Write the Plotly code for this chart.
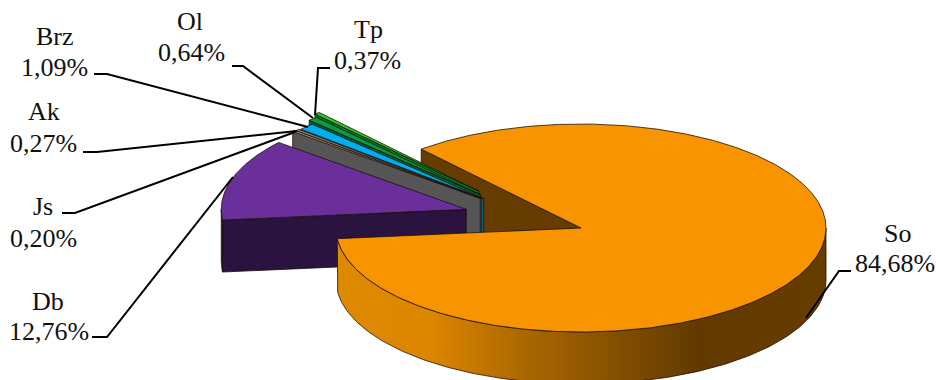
import numpy as np
import plotly.graph_objects as go

# Share of each category, clockwise from the large slice
names = ["So", "Db", "Js", "Ak", "Brz", "Ol", "Tp"]
shares = [84.68, 12.76, 0.20, 0.27, 1.09, 0.64, 0.37]

# Drawing style and pie geometry, in page pixels
W, H = 936, 380
CX, CY, RX, RY, DEPTH = 581, 228, 245, 104, 52
FIRST_ANGLE = -40.7
TOP_COLOR = {"So": "#f79400", "Db": "#6b2f9b", "Js": "#e3b596", "Ak": "#8a8a8a",
             "Brz": "#00aeef", "Ol": "#0a9a45", "Tp": "#22cc22"}
WALL_COLOR = {"So": "#663c00", "Db": "#2b1340", "Js": "#555555", "Ak": "#6b5a50",
              "Brz": "#0b6e96", "Ol": "#056030", "Tp": "#0a7a20"}
EDGE = "#1c1208"
# Horizontal and vertical pull-out of each slice, as a fraction of the radii
EXPLODE = {"So": (0, 0), "Db": (0.49, 0.61), "Js": (0.54, 0.44), "Ak": (0.54, 0.43),
           "Brz": (0.55, 0.41), "Ol": (0.60, 0.44), "Tp": (0.63, 0.47)}
# Text centres: name line and value line
LABEL_POS = {"So": (897, 233, 895, 263), "Db": (48, 301, 49, 331), "Js": (43, 206, 43, 238),
             "Ak": (44, 111, 43, 143), "Brz": (55, 36, 54, 67), "Ol": (190, 21, 191, 52),
             "Tp": (368, 29, 367, 60)}
LEADERS = {"So": [(851, 271), (839, 271), (806, 318)],
           "Db": [(92, 337), (107, 337), (233, 177)],
           "Js": [(62, 213), (75, 213), (295, 132)],
           "Ak": [(83, 152), (97, 152), (297, 131)],
           "Brz": [(94, 74), (107, 74), (308, 127)],
           "Ol": [(232, 66), (243, 66), (313, 118)],
           "Tp": [(330, 68), (318, 68), (315, 115)]}
BODY_RAMP = [[0.0, "#dd8a00"], [0.19, "#dd8600"], [0.395, "#a86600"],
             [0.736, "#623a00"], [1.0, "#663c00"]]
FONT = dict(family="Liberation Serif", size=26, color="#111111")

# Angular extent of every slice, measured clockwise from twelve o'clock
total = sum(shares)
spans = {}
angle = FIRST_ANGLE
for name, share in zip(names, shares):
    sweep = share / total * 360
    spans[name] = (angle, angle + sweep)
    angle += sweep


def rim(theta, ox=0.0, oy=0.0, drop=0.0):
    rad = np.radians(theta)
    return CX + ox + RX * np.sin(rad), CY + oy + drop - RY * np.cos(rad)


def offset(name):
    a, b = spans[name]
    mid = np.radians((a + b) / 2)
    ex, ey = EXPLODE[name]
    return ex * RX * np.sin(mid), -ey * RY * np.cos(mid)


def poly(xs, ys, fill, edge=EDGE, width=0.8, **extra):
    style = dict(x=list(xs) + [xs[0]], y=list(ys) + [ys[0]], mode="lines", fill="toself",
                 line=dict(color=edge, width=width), hoverinfo="skip", showlegend=False)
    if fill is not None:
        style["fillcolor"] = fill
    style.update(extra)
    return go.Scatter(**style)


def top_face(name):
    a, b = spans[name]
    ox, oy = offset(name)
    t = np.linspace(a, b, max(3, int((b - a) * 2)))
    x, y = rim(t, ox, oy)
    return poly([CX + ox, *x], [CY + oy, *y], TOP_COLOR[name])


def radial_face(name, theta):
    ox, oy = offset(name)
    rx, ry = rim(theta, ox, oy)
    return poly([CX + ox, rx, rx, CX + ox],
                [CY + oy, ry, ry + DEPTH, CY + oy + DEPTH], WALL_COLOR[name])


def outer_wall(name, a, b, **extra):
    ox, oy = offset(name)
    t = np.linspace(a, b, 200)
    x, y = rim(t, ox, oy)
    return poly([*x, *x[::-1]], [*y, *(y[::-1] + DEPTH)],
                None if "fillgradient" in extra else WALL_COLOR[name], **extra)


fig = go.Figure()

# Back to front: the large slice's cut face, thin slices, the purple slice, the large slice
fig.add_trace(radial_face("So", spans["So"][0]))
for name in ["Tp", "Ol", "Brz", "Ak", "Js"]:
    fig.add_trace(radial_face(name, spans[name][0]))
    fig.add_trace(top_face(name))
fig.add_trace(radial_face("Db", spans["Db"][0]))
fig.add_trace(outer_wall("Db", spans["Db"][0], 270))
fig.add_trace(top_face("Db"))
fig.add_trace(outer_wall("So", 90, spans["So"][1],
                         fillgradient=dict(type="horizontal", colorscale=BODY_RAMP)))
fig.add_trace(top_face("So"))

# Leader lines
for name in names:
    pts = LEADERS[name]
    fig.add_trace(go.Scatter(x=[p[0] for p in pts], y=[p[1] for p in pts], mode="lines",
                             line=dict(color="#000000", width=2), hoverinfo="skip",
                             showlegend=False))

# Category name above its percentage, with a decimal comma
annotations = []
for name, share in zip(names, shares):
    nx, ny, vx, vy = LABEL_POS[name]
    annotations.append(dict(x=nx, y=ny, text=name, showarrow=False, font=FONT,
                            xanchor="center", yanchor="middle"))
    annotations.append(dict(x=vx, y=vy, text=f"{share:.2f}%".replace(".", ","), showarrow=False,
                            font=FONT, xanchor="center", yanchor="middle"))

hidden = dict(visible=False, fixedrange=True)
fig.update_layout(width=W, height=H, margin=dict(l=0, r=0, t=0, b=0),
                  paper_bgcolor="white", plot_bgcolor="white", annotations=annotations,
                  xaxis=dict(range=[0, W], **hidden), yaxis=dict(range=[H, 0], **hidden))
fig.write_html("out.html", config=dict(displayModeBar=False))
